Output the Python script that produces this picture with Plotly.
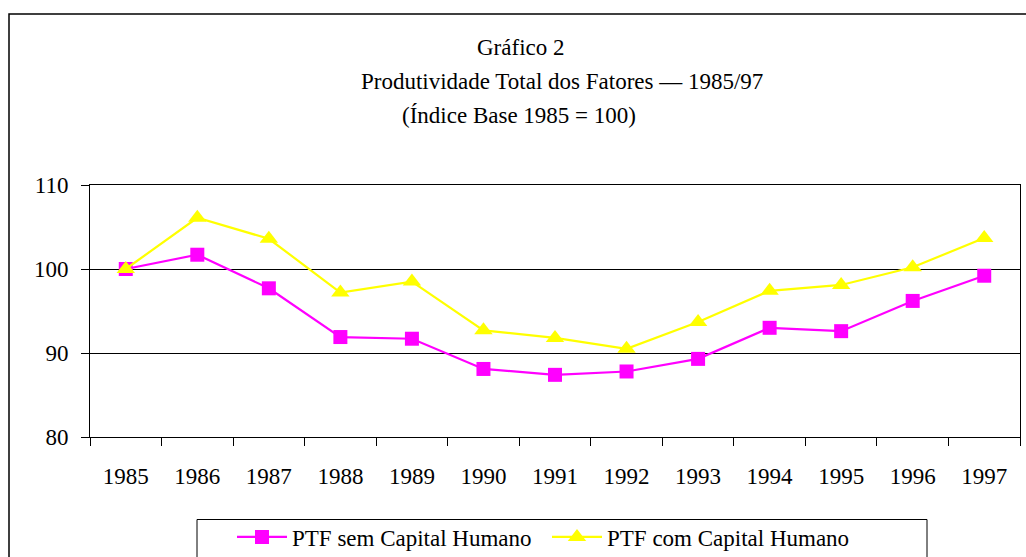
import plotly.graph_objects as go

years = ["1985", "1986", "1987", "1988", "1989", "1990", "1991", "1992",
         "1993", "1994", "1995", "1996", "1997"]
ptf_sem = [100.0, 101.7, 97.7, 91.9, 91.7, 88.1, 87.4, 87.8, 89.3, 93.0, 92.6, 96.2, 99.2]
ptf_com = [100.0, 106.1, 103.6, 97.2, 98.5, 92.7, 91.8, 90.5, 93.7, 97.4, 98.1, 100.2, 103.7]
y_ticks = [80, 90, 100, 110]

FONT = "Liberation Serif"
FS = 23
W, H = 1026, 557

fig = go.Figure()
fig.add_trace(go.Scatter(
    x=years, y=ptf_sem, name="PTF sem Capital Humano", mode="lines+markers",
    line=dict(color="#FF00FF", width=2.2),
    marker=dict(symbol="square", size=14, color="#FF00FF"),
))
fig.add_trace(go.Scatter(
    x=years, y=ptf_com, name="PTF com Capital Humano", mode="lines+markers",
    line=dict(color="#FFFF00", width=2.2),
    marker=dict(symbol="triangle-up", size=16, color="#FFFF00"),
))

fig.update_layout(
    width=W, height=H,
    margin=dict(l=90, r=6, t=185, b=120),
    paper_bgcolor="white", plot_bgcolor="white",
    font=dict(family=FONT, size=FS, color="black"),
    showlegend=True,
    legend=dict(
        orientation="h", xref="container", yref="container",
        x=232 / W, xanchor="left",
        y=(H - 537) / H, yanchor="middle",
        bgcolor="rgba(0,0,0,0)", borderwidth=0,
        font=dict(family=FONT, size=FS, color="black"),
        itemwidth=50, entrywidth=250, entrywidthmode="pixels",
        tracegroupgap=0,
    ),
    xaxis=dict(
        type="category", range=[-0.5, 12.5], tickson="boundaries",
        ticks="outside", ticklen=8, tickcolor="black", tickwidth=1,
        showline=True, linecolor="black", linewidth=1, mirror=True,
        showgrid=False, ticklabelstandoff=18, automargin=False,
        tickfont=dict(family=FONT, size=FS, color="black"),
    ),
    yaxis=dict(
        range=[80, 110], tickvals=y_ticks,
        ticks="outside", ticklen=8, tickcolor="black", tickwidth=1,
        showline=True, linecolor="black", linewidth=1, mirror=True,
        showgrid=True, gridcolor="black", gridwidth=1, zeroline=False,
        ticklabelstandoff=8, automargin=False,
        tickfont=dict(family=FONT, size=FS, color="black"),
    ),
    shapes=[
        dict(type="rect", xref="paper", yref="paper",
             x0=(9 - 90) / 930, x1=1.2, y0=-0.8, y1=(437 - 14) / 252,
             line=dict(color="black", width=1.5), fillcolor="rgba(0,0,0,0)", layer="below"),
        dict(type="rect", xref="paper", yref="paper",
             x0=(197 - 90) / 930, x1=(927 - 90) / 930, y0=-0.8, y1=(437 - 519.5) / 252,
             line=dict(color="black", width=1), fillcolor="rgba(0,0,0,0)", layer="below"),
    ],
    annotations=[
        dict(text="Gráfico 2", xref="paper", yref="paper", x=(521 - 90) / 930,
             y=(437 - 47) / 252, xanchor="center", yanchor="middle", showarrow=False,
             font=dict(family=FONT, size=FS, color="black")),
        dict(text="Produtividade Total dos Fatores — 1985/97", xref="paper", yref="paper",
             x=(561.5 - 90) / 930, y=(437 - 82) / 252, xanchor="center", yanchor="middle",
             showarrow=False, font=dict(family=FONT, size=FS, color="black")),
        dict(text="(Índice Base 1985 = 100)", xref="paper", yref="paper",
             x=(518.5 - 90) / 930, y=(437 - 115) / 252, xanchor="center", yanchor="middle",
             showarrow=False, font=dict(family=FONT, size=FS, color="black")),
    ],
)

fig.write_html("out.html", config={"displayModeBar": False},
               post_script="document.body.style.margin='0';")
